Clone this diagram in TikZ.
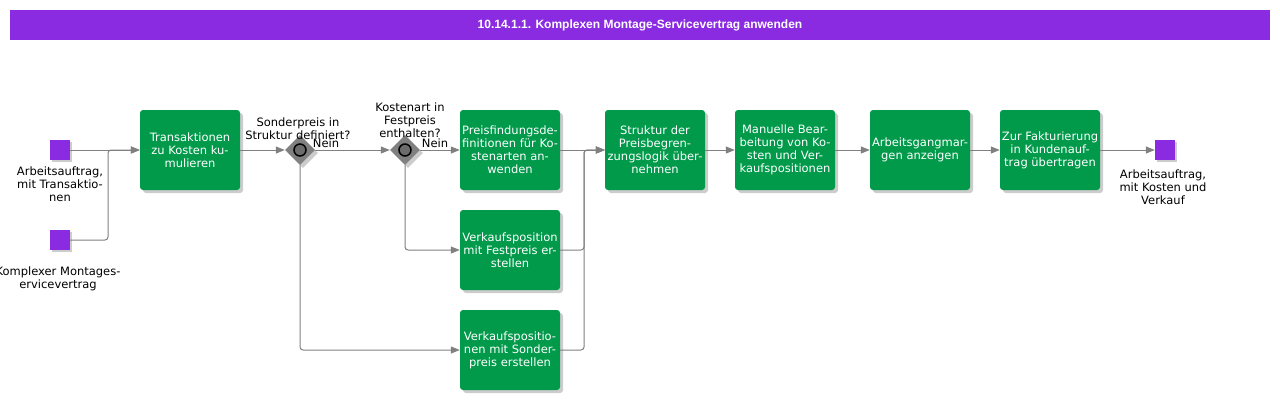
\documentclass[tikz,border=0pt]{standalone}
\usepackage{fontspec}
\setmainfont{DejaVu Sans}
\newfontfamily\titlefont{Liberation Sans}
\usetikzlibrary{shapes.geometric,arrows.meta,shadows}
\definecolor{actgreen}{HTML}{009A4A}
\definecolor{evpurple}{HTML}{8A2BE2}
\definecolor{flowgray}{HTML}{808080}
\begin{document}
\begin{tikzpicture}[x=1pt,y=-1pt,
  every node/.style={font=\fontsize{11.5}{13}\selectfont, align=center, inner sep=0pt},
  task/.style={rectangle, rounded corners=3pt, fill=actgreen, text=white, minimum width=100pt, minimum height=80pt, drop shadow={shadow xshift=3pt, shadow yshift=-3pt, fill=black, opacity=.2}},
  event/.style={rectangle, fill=evpurple, minimum size=20pt, drop shadow={shadow xshift=2pt, shadow yshift=-2pt, fill=black, opacity=.2}},
  gate/.style={diamond, fill=flowgray, minimum size=30pt, drop shadow={shadow xshift=3pt, shadow yshift=-3pt, fill=black, opacity=.2}},
  gatering/.style={circle, draw=black, line width=1.5pt, fill=gray!85!black, minimum size=12pt},
  flow/.style={draw=flowgray, line width=1pt, -{Triangle[length=9pt,width=7pt]}, rounded corners=3pt},
  lbl/.style={text=black}]
\useasboundingbox (0,0) rectangle (1280,400);
\node[fill=evpurple, minimum width=1260pt, minimum height=30pt, text=white, font=\titlefont\bfseries\fontsize{12}{14}\selectfont] (title) at (640,25) {10.14.1.1. Komplexen Montage-Servicevertrag anwenden};
% events
\node[event] (s1) at (60,150){};
\node[event] (s2) at (60,240){};
\node[event] (e1) at (1165,150){};
\node[lbl] (s1l) at (60,184){Arbeitsauftrag,\\mit Transaktio-\\nen};
\node[lbl] (s2l) at (58,279){Komplexer Montages-\\ervicevertrag};
\node[lbl] (e1l) at (1163,187){Arbeitsauftrag,\\mit Kosten und\\Verkauf};
% tasks
\node[task] (t1) at (190,150){Transaktionen\\zu Kosten ku-\\mulieren};
\node[task] (p1) at (510,150){Preisfindungsde-\\finitionen für Ko-\\stenarten an-\\wenden};
\node[task] (v1) at (510,250){Verkaufsposition\\mit Festpreis er-\\stellen};
\node[task] (v2) at (510,350){Verkaufspositio-\\nen mit Sonder-\\preis erstellen};
\node[task] (s5) at (655,150){Struktur der\\Preisbegren-\\zungslogik über-\\nehmen};
\node[task] (b6) at (785,150){Manuelle Bear-\\beitung von Ko-\\sten und Ver-\\kaufspositionen};
\node[task] (b7) at (920,150){Arbeitsgangmar-\\gen anzeigen};
\node[task] (b8) at (1050,150){Zur Fakturierung\\in Kundenauf-\\trag übertragen};
% gateways
\node[gate] (g1) at (300,150){};
\node[gatering] (g1c) at (300,150){};
\node[gate] (g2) at (405,150){};
\node[gatering] (g2c) at (405,150){};
\node[lbl] (g1l) at (298,129){Sonderpreis in\\Struktur definiert?};
\node[lbl] (g2l) at (410,120){Kostenart in\\Festpreis\\enthalten?};
\node[lbl] (n1) at (326,143){Nein};
\node[lbl] (n2) at (435,143){Nein};
\coordinate (j1) at (108,150);
\coordinate (j2) at (584,150);
% flows
\draw[flow](s1) -- (t1);
\draw[flow](s2.east) -| (j1) -- (t1.west);
\draw[flow](t1) -- (g1);
\draw[flow](g1) -- (g2);
\draw[flow](g2) -- (p1);
\draw[flow](g2.south) |- (v1.west);
\draw[flow](g1.south) |- (v2.west);
\draw[flow](p1) -- (s5);
\draw[flow](v1.east) -| (j2) -- (s5.west);
\draw[flow](v2.east) -| (j2) -- (s5.west);
\draw[flow](s5) -- (b6);
\draw[flow](b6) -- (b7);
\draw[flow](b7) -- (b8);
\draw[flow](b8) -- (e1);
\end{tikzpicture}
\end{document}
